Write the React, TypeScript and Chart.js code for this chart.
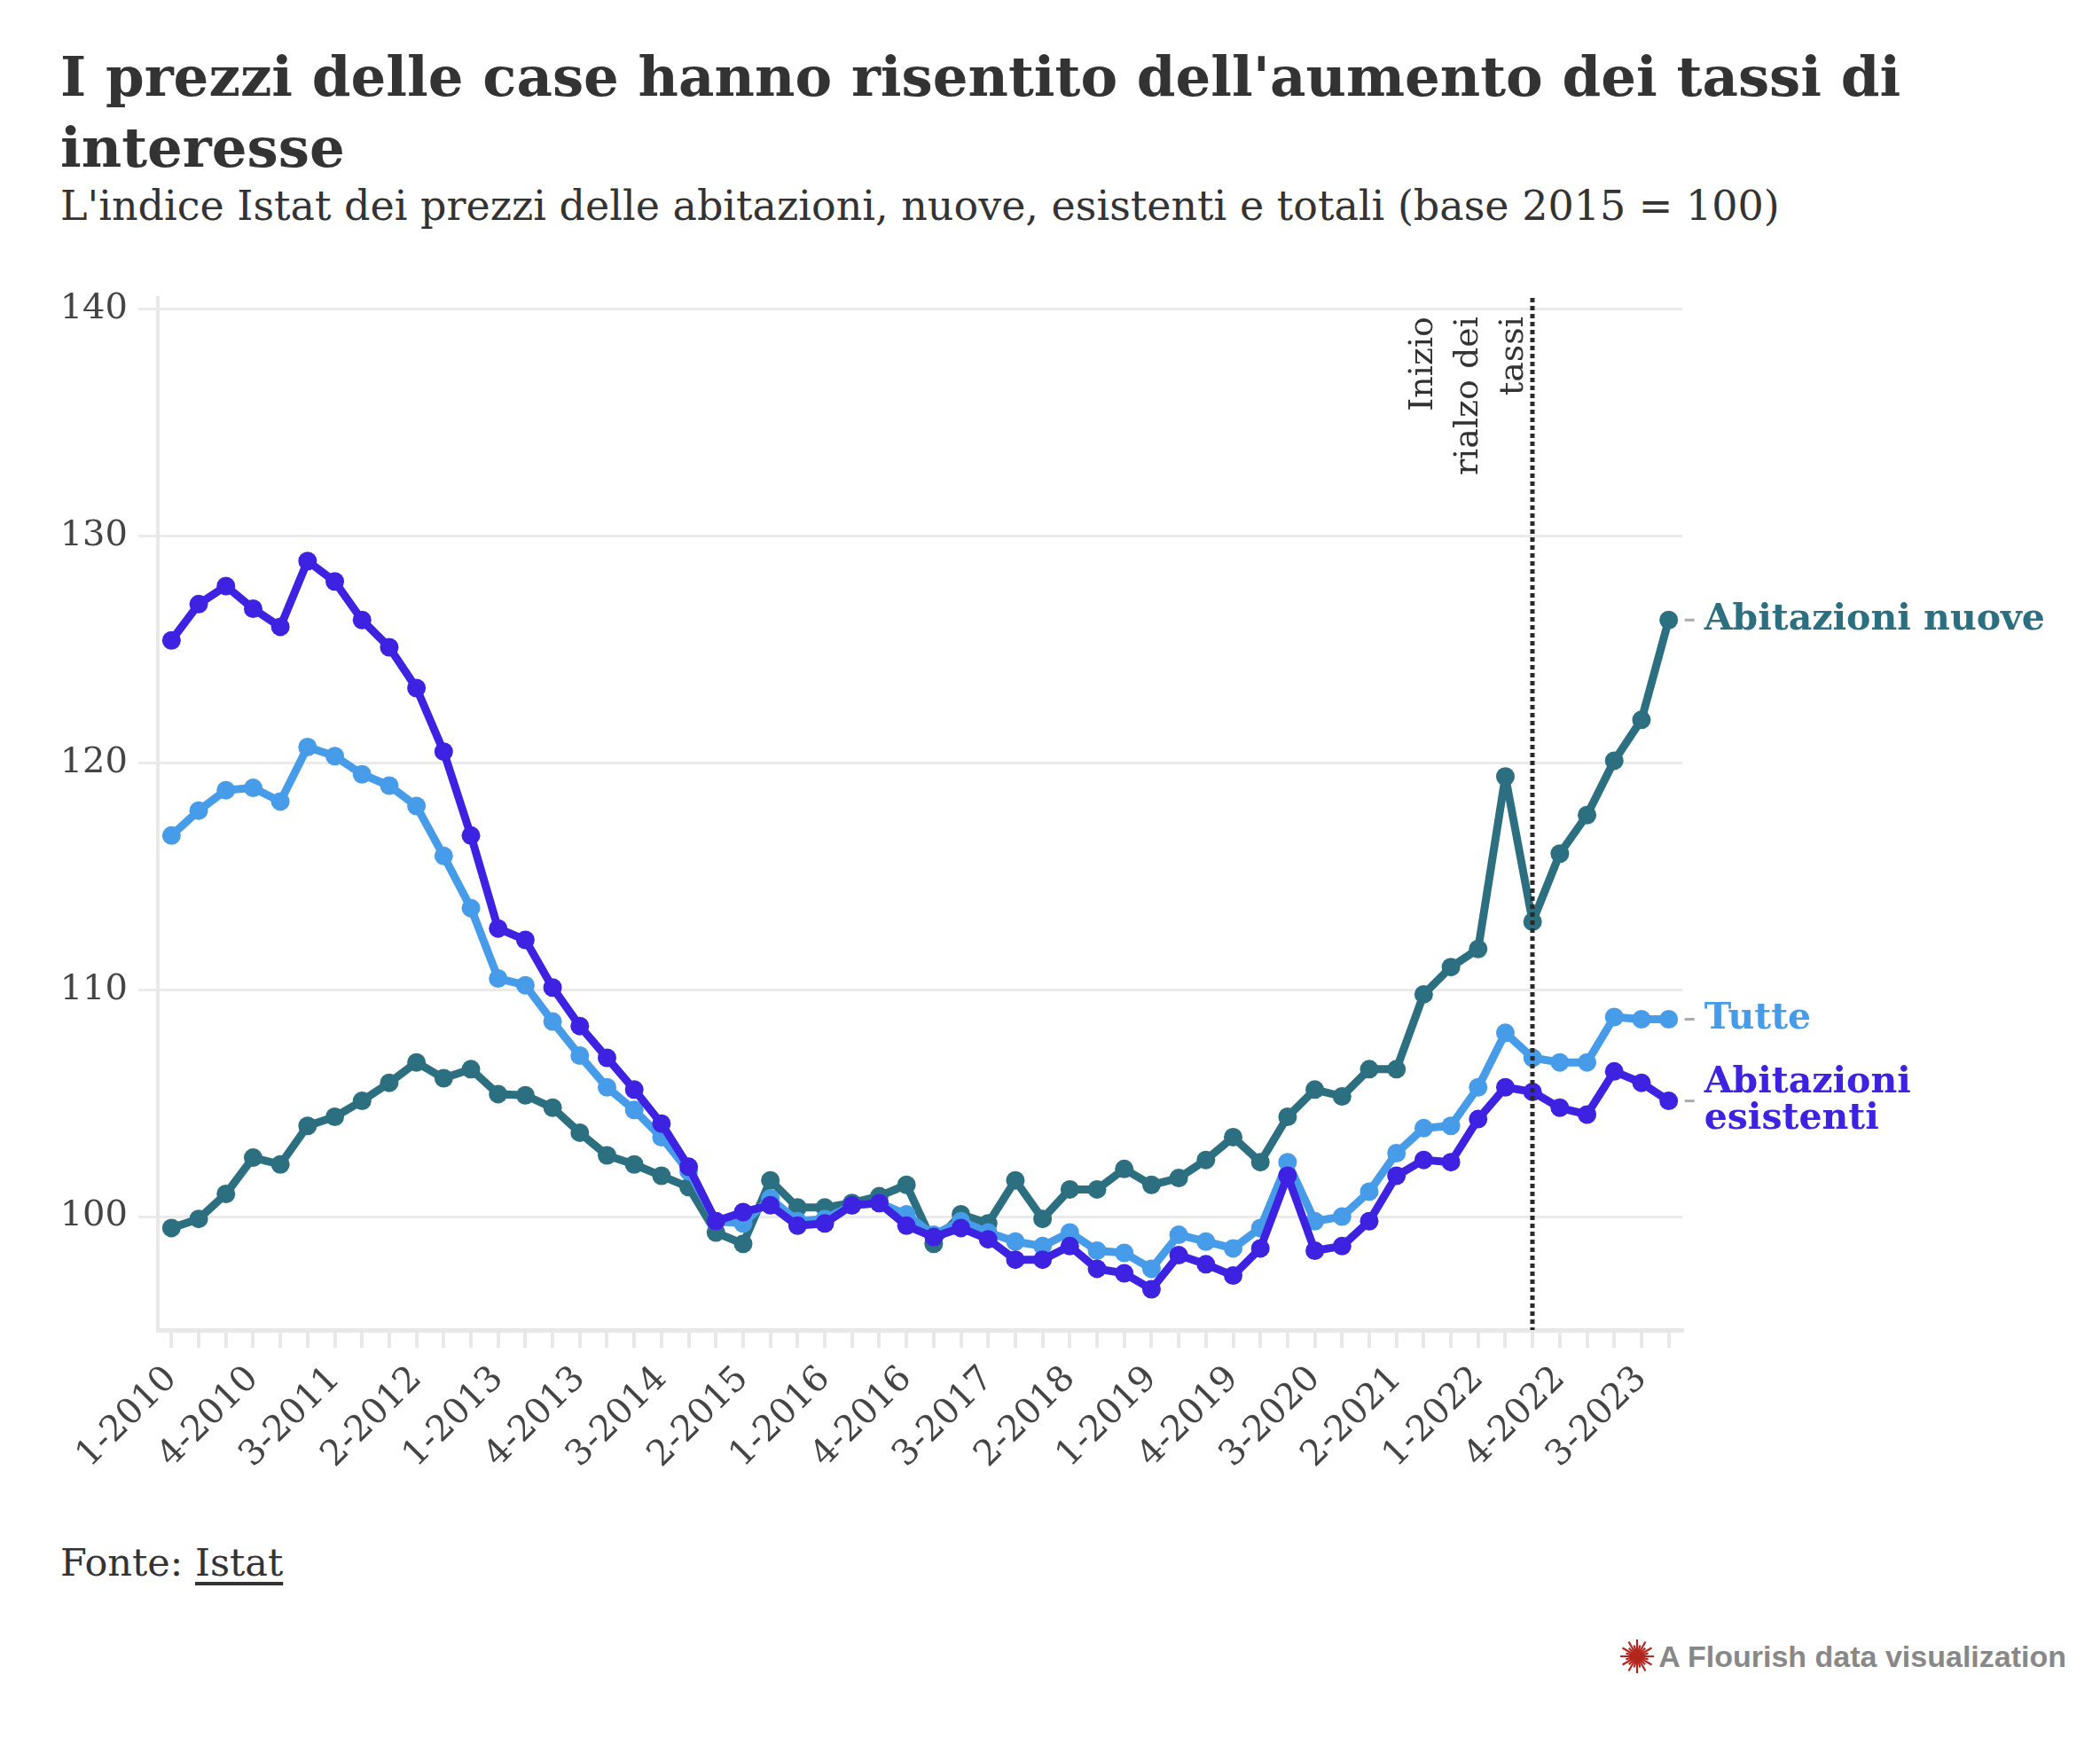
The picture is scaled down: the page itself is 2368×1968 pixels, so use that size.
import React, { useEffect, useRef } from "react";
import { Chart, registerables } from "chart.js";

Chart.register(...registerables);

const categories = [
  "1-2010", "2-2010", "3-2010", "4-2010",
  "1-2011", "2-2011", "3-2011", "4-2011",
  "1-2012", "2-2012", "3-2012", "4-2012",
  "1-2013", "2-2013", "3-2013", "4-2013",
  "1-2014", "2-2014", "3-2014", "4-2014",
  "1-2015", "2-2015", "3-2015", "4-2015",
  "1-2016", "2-2016", "3-2016", "4-2016",
  "1-2017", "2-2017", "3-2017", "4-2017",
  "1-2018", "2-2018", "3-2018", "4-2018",
  "1-2019", "2-2019", "3-2019", "4-2019",
  "1-2020", "2-2020", "3-2020", "4-2020",
  "1-2021", "2-2021", "3-2021", "4-2021",
  "1-2022", "2-2022", "3-2022", "4-2022",
  "1-2023", "2-2023", "3-2023", "4-2023",
];

const esistenti = [
  125.4, 127.0, 127.8, 126.8, 126.0, 128.9, 128.0, 126.3,
  125.1, 123.3, 120.5, 116.8, 112.7, 112.2, 110.1, 108.4,
  107.0, 105.6, 104.1, 102.2, 99.8, 100.2, 100.5, 99.6,
  99.7, 100.5, 100.6, 99.6, 99.1, 99.5, 99.0, 98.1,
  98.1, 98.7, 97.7, 97.5, 96.8, 98.3, 97.9, 97.4,
  98.6, 101.8, 98.5, 98.7, 99.8, 101.8, 102.5, 102.4,
  104.3, 105.7, 105.5, 104.8, 104.5, 106.4, 105.9, 105.1,
];

const tutte = [
  116.8, 117.9, 118.8, 118.9, 118.3, 120.7, 120.3, 119.5,
  119.0, 118.1, 115.9, 113.6, 110.5, 110.2, 108.6, 107.1,
  105.7, 104.7, 103.5, 102.0, 99.8, 99.7, 100.8, 99.8,
  99.9, 100.5, 100.6, 100.1, 99.2, 99.8, 99.3, 98.9,
  98.7, 99.3, 98.5, 98.4, 97.7, 99.2, 98.9, 98.6,
  99.5, 102.4, 99.8, 100.0, 101.1, 102.8, 103.9, 104.0,
  105.7, 108.1, 107.0, 106.8, 106.8, 108.8, 108.7, 108.7,
];

const nuove = [
  99.5, 99.9, 101.0, 102.6, 102.3, 104.0, 104.4, 105.1,
  105.9, 106.8, 106.1, 106.5, 105.4, 105.35, 104.8, 103.7,
  102.7, 102.3, 101.8, 101.3, 99.3, 98.8, 101.6, 100.4,
  100.4, 100.6, 100.9, 101.4, 98.8, 100.1, 99.7, 101.6,
  99.9, 101.2, 101.2, 102.1, 101.4, 101.7, 102.5, 103.5,
  102.4, 104.4, 105.6, 105.3, 106.5, 106.5, 109.8, 111.0,
  111.8, 119.4, 113.0, 116.0, 117.7, 120.1, 121.9, 126.3,
];

const yTickValues = [100, 110, 120, 130, 140];
const rateHikeCategory = "3-2022";
const annotationLines = ["Inizio", "rialzo dei", "tassi"];
const labelEsistenti = ["Abitazioni", "esistenti"];
const labelTutte = ["Tutte"];
const labelNuove = ["Abitazioni nuove"];

const COLOR_ESISTENTI = "#3e22e2";
const COLOR_TUTTE = "#479ce9";
const COLOR_NUOVE = "#2c6f80";

const SERIF = '"DejaVu Serif", serif';

const overlayPlugin = {
  id: "overlay",
  afterDatasetsDraw(chart: any) {
    const { ctx, chartArea, scales } = chart;
    const x = scales.x;
    const y = scales.y;
    const idx = categories.indexOf(rateHikeCategory);
    const lx = Math.round(x.getPixelForValue(idx));

    ctx.save();
    ctx.strokeStyle = "#2a2a2a";
    ctx.lineWidth = 5;
    ctx.setLineDash([5, 4]);
    ctx.beginPath();
    ctx.moveTo(lx, chartArea.top);
    ctx.lineTo(lx, chartArea.bottom);
    ctx.stroke();
    ctx.setLineDash([]);
    ctx.restore();

    ctx.save();
    ctx.translate(lx - 123, chartArea.top + 21);
    ctx.rotate(-Math.PI / 2);
    ctx.font = `38px ${SERIF}`;
    ctx.fillStyle = "#333333";
    ctx.textAlign = "right";
    ctx.textBaseline = "middle";
    annotationLines.forEach((t, i) => ctx.fillText(t, 0, i * 51));
    ctx.restore();

    ctx.save();
    chart.data.datasets.forEach((ds: any) => {
      const last = ds.data.length - 1;
      const px = x.getPixelForValue(last);
      const py = y.getPixelForValue(ds.data[last]);
      ctx.strokeStyle = "#aaaaaa";
      ctx.lineWidth = 3;
      ctx.beginPath();
      ctx.moveTo(px + 18, py);
      ctx.lineTo(px + 29, py);
      ctx.stroke();
      const lines: string[] = ds.endLabel;
      ctx.font = `bold 41px ${SERIF}`;
      ctx.fillStyle = ds.borderColor;
      ctx.textAlign = "left";
      ctx.textBaseline = "middle";
      lines.forEach((t, i) => {
        ctx.fillText(t, px + 40, py + (i - (lines.length - 1) / 2) * 41);
      });
    });
    ctx.restore();
  },
};

function FlourishIcon() {
  const rays = [];
  for (let i = 0; i < 12; i++) {
    const a = (i * Math.PI) / 12;
    const r = i % 2 ? 13 : 19;
    rays.push(
      <line
        key={i}
        x1={20 - Math.cos(a) * r}
        y1={20 - Math.sin(a) * r}
        x2={20 + Math.cos(a) * r}
        y2={20 + Math.sin(a) * r}
        stroke="#b3261e"
        strokeWidth={2.2}
      />
    );
  }
  return (
    <svg width={40} height={40} viewBox="0 0 40 40" style={{ display: "block" }}>
      {rays}
      <circle cx={20} cy={20} r={5} fill="#b3261e" />
    </svg>
  );
}

export default function App() {
  const canvasRef = useRef<HTMLCanvasElement | null>(null);

  useEffect(() => {
    document.body.style.margin = "0";
    const canvas = canvasRef.current;
    if (!canvas) return;
    const mk = (label: string, data: number[], color: string, endLabel: string[]) => ({
      label,
      data,
      borderColor: color,
      backgroundColor: color,
      pointBackgroundColor: color,
      pointBorderWidth: 0,
      pointRadius: 10.5,
      pointHoverRadius: 10.5,
      borderWidth: 9,
      borderJoinStyle: "round" as const,
      borderCapStyle: "round" as const,
      tension: 0,
      fill: false,
      endLabel,
    });
    const chart = new Chart(canvas, {
      type: "line",
      data: {
        labels: categories,
        datasets: [
          mk("Abitazioni esistenti", esistenti, COLOR_ESISTENTI, labelEsistenti),
          mk("Tutte", tutte, COLOR_TUTTE, labelTutte),
          mk("Abitazioni nuove", nuove, COLOR_NUOVE, labelNuove),
        ] as any,
      },
      options: {
        animation: false,
        responsive: true,
        maintainAspectRatio: false,
        events: [],
        layout: { padding: { top: 31, right: 471, left: 0, bottom: 0 } },
        plugins: {
          legend: { display: false },
          tooltip: { enabled: false },
          title: { display: false },
        },
        scales: {
          x: {
            type: "category",
            offset: true,
            grid: {
              display: true,
              drawOnChartArea: false,
              drawTicks: true,
              tickLength: 20,
              color: "#e8e8e8",
              lineWidth: 4,
              offset: false,
            },
            border: { display: true, color: "#e8e8e8", width: 5 },
            ticks: {
              autoSkip: false,
              maxRotation: 45,
              minRotation: 45,
              padding: 12,
              color: "#444444",
              font: { family: SERIF, size: 40 },
              callback: (_v: any, i: number) => (i % 3 === 0 ? categories[i] : ""),
            },
            afterFit: (scale: any) => {
              scale.height = 200;
            },
          },
          y: {
            min: 95,
            max: 140.5,
            grid: {
              color: "#ebebeb",
              lineWidth: 3,
              drawTicks: true,
              tickLength: 22,
            },
            border: { display: true, color: "#e8e8e8", width: 4 },
            ticks: {
              padding: 12,
              color: "#444444",
              font: { family: SERIF, size: 40 },
            },
            afterBuildTicks: (scale: any) => {
              scale.ticks = yTickValues.map((v) => ({ value: v }));
            },
            afterFit: (scale: any) => {
              scale.width = 178;
            },
          },
        },
      },
      plugins: [overlayPlugin],
    });
    return () => chart.destroy();
  }, []);

  return (
    <div style={{ position: "relative", width: 2368, height: 1968, background: "#ffffff", overflow: "hidden" }}>
      <div
        style={{
          position: "absolute",
          left: 68,
          top: 46,
          fontFamily: SERIF,
          fontWeight: "bold",
          fontSize: 62.5,
          lineHeight: "80px",
          color: "#333333",
          whiteSpace: "nowrap",
        }}
      >
        I prezzi delle case hanno risentito dell'aumento dei tassi di
        <br />
        interesse
      </div>
      <div
        style={{
          position: "absolute",
          left: 68,
          top: 206,
          fontFamily: SERIF,
          fontSize: 46,
          lineHeight: "52px",
          color: "#333333",
          whiteSpace: "nowrap",
        }}
      >
        L'indice Istat dei prezzi delle abitazioni, nuove, esistenti e totali (base 2015 = 100)
      </div>
      <div style={{ position: "absolute", left: 0, top: 300, width: 2368, height: 1400 }}>
        <canvas ref={canvasRef} />
      </div>
      <div
        style={{
          position: "absolute",
          left: 68,
          top: 1737,
          fontFamily: SERIF,
          fontSize: 43,
          lineHeight: "50px",
          color: "#333333",
          whiteSpace: "nowrap",
        }}
      >
        Fonte: <span style={{ textDecoration: "underline", textUnderlineOffset: 7 }}>Istat</span>
      </div>
      <div
        style={{
          position: "absolute",
          right: 38,
          top: 1848,
          display: "flex",
          alignItems: "center",
          gap: 4,
          fontFamily: '"Liberation Sans", Arial, sans-serif',
          fontWeight: "bold",
          fontSize: 34,
          lineHeight: "40px",
          color: "#888888",
          whiteSpace: "nowrap",
        }}
      >
        <FlourishIcon />
        <span>A Flourish data visualization</span>
      </div>
    </div>
  );
}
